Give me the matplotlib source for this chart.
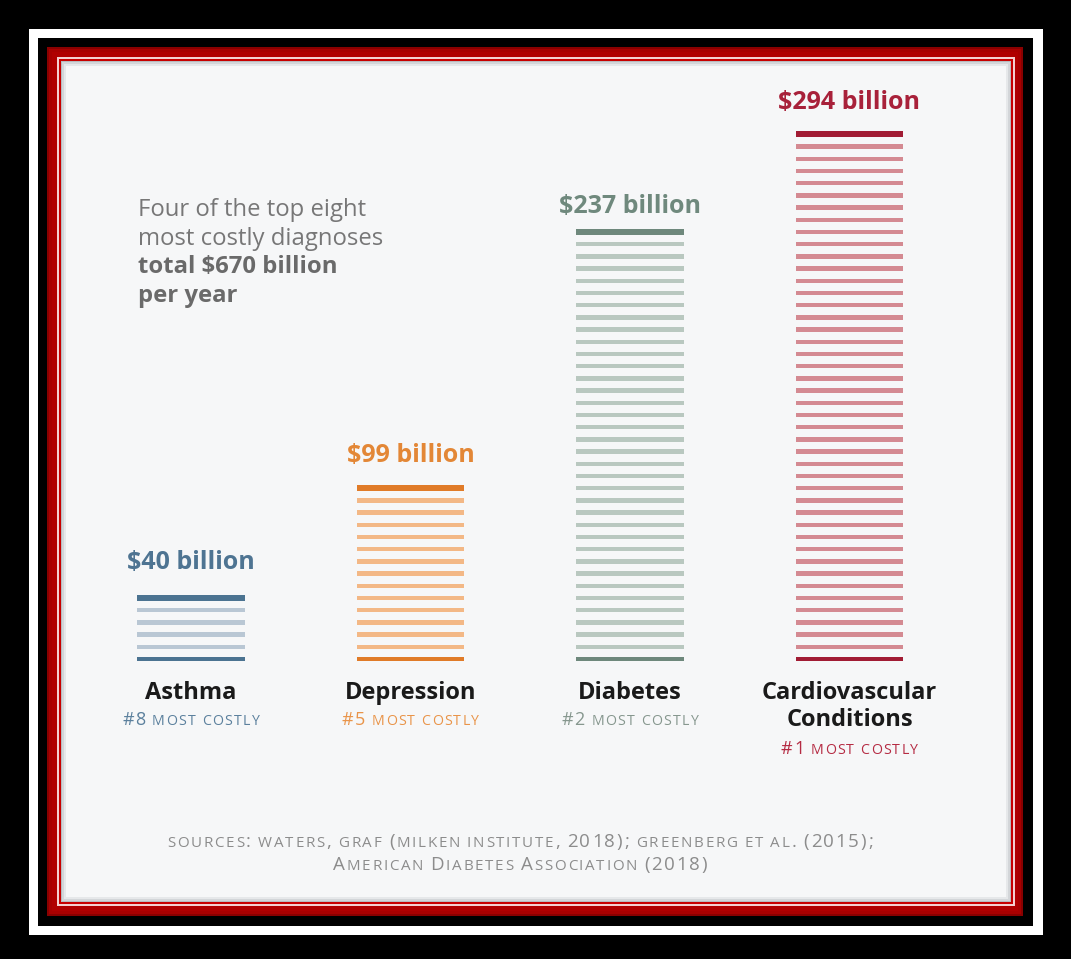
import numpy as np
import matplotlib
matplotlib.use("Agg")
import matplotlib.pyplot as plt
from matplotlib.patches import Rectangle
from matplotlib.offsetbox import TextArea, HPacker, AnnotationBbox, DrawingArea

# ---------------- data ----------------
categories = ["Asthma", "Depression", "Diabetes", "Cardiovascular\nConditions"]
values = [40, 99, 237, 294]              # billions of dollars per year
ranks = ["#8 most costly", "#5 most costly", "#2 most costly", "#1 most costly"]
intro_regular = ["Four of the top eight", "most costly diagnoses"]
intro_bold = ["total $670 billion", "per year"]
sources = ["sources: waters, graf (milken institute, 2018); greenberg et al. (2015);",
           "American Diabetes Association (2018)"]

# ---------------- style ----------------
dark = ["#4b7391", "#e07b28", "#6e887c", "#a11c34"]
light = ["#b9c7d4", "#f3b886", "#b9c8c0", "#d48a92"]
label_col = ["#4e7492", "#e38736", "#6f897d", "#a8213a"]
rank_col = ["#5b809d", "#e99449", "#86978e", "#b52b43"]
FONT = ["Open Sans", "DejaVu Sans"]
plt.rcParams["font.family"] = FONT

W, H = 1071, 959
fig = plt.figure(figsize=(W / 100, H / 100), dpi=100)
fig.patch.set_facecolor("black")


def rect(x0, y0, x1, y1, **kw):
    fig.patches.append(Rectangle((x0 / W, 1 - y1 / H), (x1 - x0) / W, (y1 - y0) / H,
                                 transform=fig.transFigure, figure=fig, zorder=-10, **kw))


# frame
rect(29, 29, 1043, 935, facecolor="white", edgecolor="none")
rect(38, 38, 1033, 926, facecolor="black", edgecolor="none")
rect(47, 47, 1023, 916, facecolor="#8a0000", edgecolor="none")
rect(49, 49, 1021, 914, facecolor="#a80000", edgecolor="none")
rect(52, 52, 1018, 911, facecolor="#b00000", edgecolor="none")
rect(57, 57, 1015, 906, facecolor="#f4d0d0", edgecolor="none")
rect(59, 59, 1013, 904, facecolor="#c80000", edgecolor="none")
rect(61, 61, 1011, 902, facecolor="#b8bbbf", edgecolor="none")
rect(62, 62, 1010, 901, facecolor="#d3d6d9", edgecolor="none")
rect(64, 64, 1008, 899, facecolor="#e6e8ea", edgecolor="none")
rect(66, 66, 1006, 897, facecolor="#f6f7f8", edgecolor="none")

# ---------------- bars ----------------
step = 6.74           # stripe pitch in billions
px_per_unit = 12.2 / step
thin = 2.5            # stripe thickness in billions
ymin, ymax = -10, 320
zero_px = 659         # pixel row (from top) of value 0
x_left = 191 - 219.5 / 2
ax_h = (ymax - ymin) * px_per_unit
ax = fig.add_axes([x_left / W, (H - zero_px - (0 - ymin) * px_per_unit) / H,
                   219.5 * 4 / W, ax_h / H])
ax.set_zorder(5)
ax.set_xlim(-0.5, 3.5)
ax.set_ylim(ymin, ymax)
ax.axis("off")
ax.patch.set_alpha(0)

bar_w = 0.492
for i, v in enumerate(values):
    n = int(np.floor(v / step))
    ys = np.arange(n + 1) * step
    thick = np.full(n + 1, thin)
    thick[-1] = 3.3
    cols = [light[i]] * (n + 1)
    cols[0] = dark[i]
    cols[-1] = dark[i]
    ax.bar(np.full(n + 1, i), thick, bottom=ys - thick / 2, width=bar_w,
           color=cols, edgecolor="none")
    ax.annotate(f"${v} billion", xy=(i, v), xytext=(0, 12.5), textcoords="offset points",
                ha="center", va="baseline", fontsize=18, fontweight="bold",
                color=label_col[i], annotation_clip=False)


def smallcaps(text, big, small, color, track=1.0, weight="normal"):
    kids = []
    for ch in text:
        if ch == " ":
            kids.append(DrawingArea(big * 0.2, 1))
            continue
        s = ch.islower()
        kids.append(TextArea(ch.upper() if s else ch,
                             textprops=dict(size=small if s else big, color=color,
                                            family=FONT, weight=weight)))
    return HPacker(children=kids, align="baseline", pad=0, sep=track)


# category names and ranks
for i, name in enumerate(categories):
    nlines = name.count("\n") + 1
    ax.annotate(name, xy=(i, 0), xytext=(0, -15.5), textcoords="offset points",
                ha="center", va="top", fontsize=17, fontweight="bold",
                color="#1a1a1a", linespacing=1.22, annotation_clip=False)
    box = smallcaps(ranks[i], 13, 10.2, rank_col[i], track=1.0)
    ab = AnnotationBbox(box, (i, 0), xybox=(0, -44 - 21 * (nlines - 1)),
                        xycoords="data", boxcoords="offset points",
                        box_alignment=(0.5, 0.5), frameon=False, pad=0,
                        annotation_clip=False)
    ax.add_artist(ab)

# intro text
for k, t in enumerate(intro_regular + intro_bold):
    fig.text(138 / W, 1 - (216 + 28.7 * k) / H, t, ha="left", va="baseline",
             fontsize=17.2, color="#777777" if k < 2 else "#6a6a6a",
             fontweight="normal" if k < 2 else "bold")

# sources
for k, t in enumerate(sources):
    box = smallcaps(t, 13.5, 10.9, "#8c8c8c", track=1.25)
    ab = AnnotationBbox(box, (520, H - (842 + 23 * k)), xycoords="figure pixels",
                        box_alignment=(0.5, 0.5), frameon=False, pad=0)
    fig.add_artist(ab)

fig.savefig("out.png", dpi=100, facecolor=fig.get_facecolor())
